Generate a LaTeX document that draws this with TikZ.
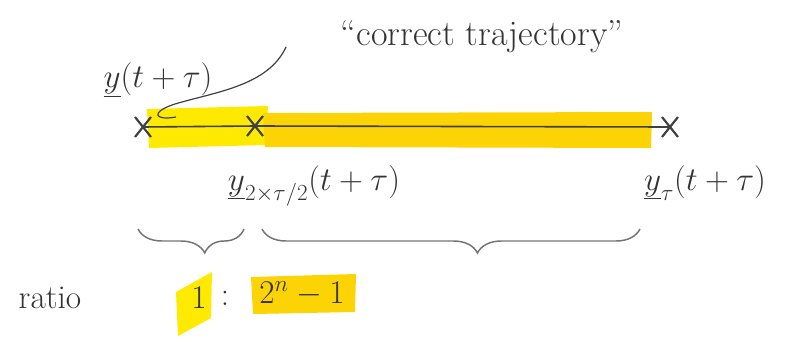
\documentclass[tikz,border=0pt]{standalone}
\usetikzlibrary{decorations.pathreplacing,arrows.meta,calc}
\begin{document}
\begin{tikzpicture}[x=0.75pt,y=-0.75pt,
  ink/.style={draw=black!75,line width=1.2pt},
  cross/.style={draw=black!75,line width=1.6pt},
  hl/.style={fill=yellow!92!orange,draw=none},
  hlo/.style={fill=yellow!72!orange,draw=none},
  lbl/.style={text=black!80,font=\fontsize{23}{27}\selectfont,inner sep=0pt},
  brc/.style={draw=black!55,line width=1.1pt,decorate,decoration={brace,mirror,amplitude=18pt,aspect=#1}}]
\useasboundingbox (0,0) rectangle (809,339);
% highlights
\fill[hl] (147,109) -- (268,106) -- (266,145) -- (149,148) -- cycle;
\fill[hlo] (263,113) -- (652,112) -- (651,148) -- (265,147) -- cycle;
% crosses and line
\coordinate (a) at (143,127);
\coordinate (b) at (255,126);
\coordinate (c) at (670,127);
\draw[ink] (a) -- (b) -- (c);
\foreach \p in {a,b,c}{
  \draw[cross] ($(\p)+(-8,-10)$) -- ($(\p)+(8,10)$);
  \draw[cross] ($(\p)+(-8,10)$) -- ($(\p)+(8,-10)$);
}
% labels
\node[lbl,font=\fontsize{27}{30}\selectfont] (ct) at (482,37) {``correct trajectory''};
\node[lbl] (y) at (158,80) {$\underline{y}(t+\tau)$};
\coordinate (tip) at (176,117);
\draw[draw=black!75,line width=0.9pt] (286,47) .. controls (268,86) and (215,92) .. (175,104)
  .. controls (150,112) and (154,121) .. (tip);
\node[lbl] (y2) at (314,186) {$\underline{y}_{2\times\tau/2}(t+\tau)$};
\node[lbl,font=\fontsize{27}{31}\selectfont] (yt) at (705,183) {$\underline{y}_{\tau}(t+\tau)$};
% braces
\coordinate (b1l) at (138,229);
\coordinate (b1r) at (244,229);
\coordinate (b2l) at (262,229);
\coordinate (b2r) at (640,229);
\draw[brc=0.63] (b1l) -- (b1r);
\draw[brc=0.57] (b2l) -- (b2r);
% ratio
\node[lbl,font=\fontsize{25}{29}\selectfont] (ratio) at (50,298) {ratio};
\fill[hl] (176,292) -- (212,272) -- (211,318) -- (178,336) -- cycle;
\node[lbl,font=\fontsize{25}{29}\selectfont] (one) at (199,298) {$1$};
\node[lbl,font=\fontsize{25}{29}\selectfont] (colon) at (225,298) {$:$};
\fill[hlo] (251,277) -- (356,274) -- (355,312) -- (253,314) -- cycle;
\node[lbl,font=\fontsize{25}{29}\selectfont] (two) at (302,294) {$2^n-1$};
\end{tikzpicture}
\end{document}
